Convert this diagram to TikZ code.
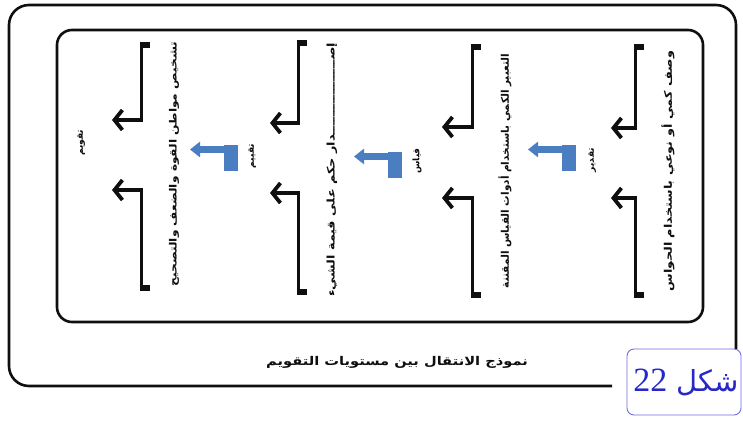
\documentclass[tikz,border=0pt]{standalone}
\usepackage{fontspec}
\newfontfamily\ar[Script=Arabic]{DejaVu Sans}
\newfontfamily\arw[Script=Arabic,FakeStretch=1.22]{DejaVu Sans}
\newfontfamily\digits{Liberation Serif}
\TeXXeTstate=1
\usetikzlibrary{arrows.meta}
\definecolor{barblue}{RGB}{74,126,192}
\definecolor{shblue}{RGB}{110,110,230}
\definecolor{shtext}{RGB}{40,40,200}
\definecolor{ink}{RGB}{15,15,15}
\tikzset{
  frame/.style={draw=ink, line width=2.6pt},
  bracketline/.style={draw=ink, line width=3pt},
  bigarrow/.style={draw=ink, line width=3.8pt, -{Straight Barb[length=8pt,width=20pt]}},
  coltext/.style={rotate=90, inner sep=0pt, text=ink, font=\arw\bfseries\fontsize{10.5}{12}\selectfont},
  lvl/.style={rotate=90, inner sep=0pt, text=ink, font=\ar\bfseries\fontsize{9}{10}\selectfont},
  caption/.style={inner sep=0pt, text=ink, font=\arw\bfseries\fontsize{12}{14}\selectfont},
  figbox/.style={draw=shblue, line width=0.9pt, rounded corners=7pt, minimum width=114pt, minimum height=66pt},
  figtext/.style={inner sep=0pt, text=shtext, font=\ar\fontsize{29}{34}\selectfont}
}
% #1 name, #2 x, #3 top, #4 bottom, #5 upper arrow y, #6 lower arrow y, #7 tip x
\newcommand\evcol[7]{%
  \coordinate (#1t) at (#2,#3);
  \coordinate (#1b) at (#2,#4);
  \coordinate (#1u) at (#2,#5);
  \coordinate (#1l) at (#2,#6);
  \coordinate (#1ut) at (#7,#5);
  \coordinate (#1lt) at (#7,#6);
  \draw[bracketline] (#1t) -- (#1u);
  \draw[bracketline] (#1b) -- (#1l);
  \draw[line width=5.5pt, draw=ink] ([xshift=-1.5pt]#1t) -- ([xshift=9pt]#1t);
  \draw[line width=5.5pt, draw=ink] ([xshift=-1.5pt]#1b) -- ([xshift=9pt]#1b);
  \draw[bigarrow] ([xshift=1.5pt]#1u) -- (#1ut);
  \draw[bigarrow] ([xshift=1.5pt]#1l) -- (#1lt);
}
% #1 name, #2 right x, #3 top y
\newcommand\bluearr[3]{%
  \coordinate (#1c) at ({#2-7},{#3+4.5});
  \coordinate (#1e) at ({#2-48},{#3+4.5});
  \fill[barblue] ({#2-14},#3) rectangle (#2,{#3+26});
  \draw[barblue, line width=7pt, -{Triangle[length=10pt,width=15pt]}] ([xshift=7pt]#1c) -- (#1e);
}
\begin{document}
\begin{tikzpicture}[x=1pt,y=-1pt]
\useasboundingbox (0,0) rectangle (743,420);
\fill[white] (0,0) rectangle (743,420);

% outer frame (open at the figure label)
\draw[frame, rounded corners=20pt] (612,386) -- (9,386) -- (9,5) -- (736,5) -- (736,349);
% inner frame
\draw[frame, rounded corners=15pt] (57,30) rectangle (703,322);

% columns
\evcol{ca}{635}{47}{295}{128}{198}{611}
\evcol{cb}{472}{47}{295}{127}{198}{442}
\evcol{cc}{298}{43}{292}{123}{193}{270}
\evcol{cd}{141}{45}{288}{120}{190}{112}

% column texts
\node[coltext] (ta) at (668,171) {\beginR وصف كمي أو نوعي باستخدام الحواس\endR};
\node[coltext, font=\ar\bfseries\fontsize{10.5}{12}\selectfont] (tb) at (505,171) {\beginR التعبير الكمي باستخدام أدوات القياس المقننة\endR};
\node[coltext] (tc) at (332,170) {\beginR إصـــــــــــــــــدار حكم على قيمة الشيء\endR};
\node[coltext, font=\arw\bfseries\fontsize{10}{12}\selectfont] (td) at (174,164) {\beginR تشخيص مواطن القوة والضعف والتصحيح\endR};

% level labels
\node[lvl] (la) at (592,160) {\beginR تقدير\endR};
\node[lvl] (lb) at (417,161) {\beginR قياس\endR};
\node[lvl] (lc) at (252,156) {\beginR تقييم\endR};
\node[lvl] (ld) at (81,143) {\beginR تقويم\endR};

% blue bent arrows
\bluearr{ba}{576}{145}
\bluearr{bb}{402}{152}
\bluearr{bc}{238}{145}

% caption
\node[caption] (cap) at (397,362) {\beginR نموذج الانتقال بين مستويات التقويم\endR};

% figure label
\node[figbox] (fig) at (684,382) {};
\node[figtext] (figt) at ([xshift=2pt]fig.center) {\beginR شكل \beginL{\digits\fontsize{34}{36}\selectfont 22}\endL\endR};
\end{tikzpicture}
\end{document}
